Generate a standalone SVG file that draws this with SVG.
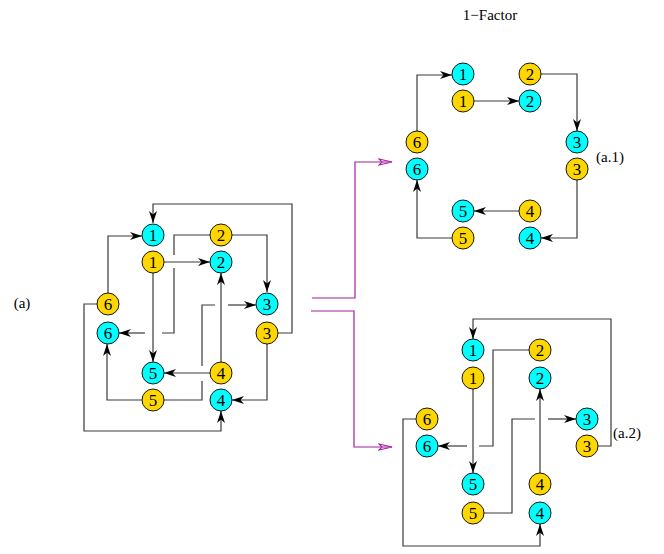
<svg xmlns="http://www.w3.org/2000/svg" width="664" height="554" viewBox="0 0 664 554">
<style>
.e{fill:none;stroke:#3a3a3a;stroke-width:1.2}
.m{fill:none;stroke:#a020a0;stroke-width:1.2}
.c{fill:#00ffff;stroke:#000;stroke-width:0.9}
.y{fill:#ffd700;stroke:#000;stroke-width:0.9}
text{font-family:"Liberation Serif","Times New Roman",serif;fill:#000}
.n{font-size:17px;text-anchor:middle}
.l{font-size:15px;text-anchor:middle}
</style>
<defs>
<marker id="ah" viewBox="0 0 12 8" refX="12" refY="4" markerWidth="12" markerHeight="8" orient="auto" markerUnits="userSpaceOnUse"><path d="M0,0 L12,4 L0,8 L3.5,4 Z" fill="#000"/></marker>
<marker id="oh" viewBox="0 0 15 9" refX="14" refY="4.5" markerWidth="15" markerHeight="9" orient="auto" markerUnits="userSpaceOnUse"><path d="M1,1.5 L14,4.5 L1,7.5 L4,4.5 Z" fill="none" stroke="#a020a0" stroke-width="1.1"/></marker>
</defs>
<text class="l" x="490" y="20">1−Factor</text>
<text class="l" x="22" y="308">(a)</text>
<text class="l" x="610" y="162">(a.1)</text>
<text class="l" x="627" y="438">(a.2)</text>
<g id="connectors">
<path class="m" d="M312,298 H355 V162 H392" marker-end="url(#oh)"/>
<path class="m" d="M311,311 H354 V447 H392" marker-end="url(#oh)"/>
<!-- (a) -->
<path class="e" d="M278,333 H292 V204 H153 V223" marker-end="url(#ah)"/>
<path class="e" d="M108,293 V236 H142" marker-end="url(#ah)"/>
<path class="e" d="M164,262 H210" marker-end="url(#ah)"/>
<path class="e" d="M210,235 H174 V255"/>
<path class="e" d="M174,268 V333 H162"/>
<path class="e" d="M145,333 H119" marker-end="url(#ah)"/>
<path class="e" d="M153,273 V362" marker-end="url(#ah)"/>
<path class="e" d="M232,235 H267 V292" marker-end="url(#ah)"/>
<path class="e" d="M221,362 V273" marker-end="url(#ah)"/>
<path class="e" d="M210,373 H164" marker-end="url(#ah)"/>
<path class="e" d="M164,400 H202 V381"/>
<path class="e" d="M202,366 V305 H215"/>
<path class="e" d="M228,305 H256" marker-end="url(#ah)"/>
<path class="e" d="M142,400 H107 V344" marker-end="url(#ah)"/>
<path class="e" d="M97,304 H84 V431 H221 V411" marker-end="url(#ah)"/>
<path class="e" d="M267,344 V400 H232" marker-end="url(#ah)"/>
<!-- (a.1) -->
<path class="e" d="M417,131 V75 H452" marker-end="url(#ah)"/>
<path class="e" d="M474,101 H519" marker-end="url(#ah)"/>
<path class="e" d="M541,74 H577 V131" marker-end="url(#ah)"/>
<path class="e" d="M577,180 V238 H541" marker-end="url(#ah)"/>
<path class="e" d="M519,211 H474" marker-end="url(#ah)"/>
<path class="e" d="M452,238 H417 V180" marker-end="url(#ah)"/>
<!-- (a.2) -->
<path class="e" d="M598,446 H611 V319 H473 V339" marker-end="url(#ah)"/>
<path class="e" d="M529,350 H493 V446 H479"/>
<path class="e" d="M467,446 H438" marker-end="url(#ah)"/>
<path class="e" d="M473,389 V473" marker-end="url(#ah)"/>
<path class="e" d="M540,473 V389" marker-end="url(#ah)"/>
<path class="e" d="M484,513 H512 V419 H535"/>
<path class="e" d="M548,419 H576" marker-end="url(#ah)"/>
<path class="e" d="M416,419 H403 V546 H540 V524" marker-end="url(#ah)"/>
</g>
<!-- (a) nodes -->
<g id="a-c1"><circle class="c" cx="153" cy="235" r="11"/><text class="n" x="153" y="241">1</text></g>
<g id="a-y1"><circle class="y" cx="153" cy="262" r="11"/><text class="n" x="153" y="268">1</text></g>
<g id="a-y2"><circle class="y" cx="221" cy="235" r="11"/><text class="n" x="221" y="241">2</text></g>
<g id="a-c2"><circle class="c" cx="221" cy="262" r="11"/><text class="n" x="221" y="268">2</text></g>
<g id="a-c3"><circle class="c" cx="267" cy="304" r="11"/><text class="n" x="267" y="310">3</text></g>
<g id="a-y3"><circle class="y" cx="267" cy="333" r="11"/><text class="n" x="267" y="339">3</text></g>
<g id="a-y6"><circle class="y" cx="108" cy="304" r="11"/><text class="n" x="108" y="310">6</text></g>
<g id="a-c6"><circle class="c" cx="108" cy="333" r="11"/><text class="n" x="108" y="339">6</text></g>
<g id="a-c5"><circle class="c" cx="153" cy="373" r="11"/><text class="n" x="153" y="379">5</text></g>
<g id="a-y4"><circle class="y" cx="221" cy="373" r="11"/><text class="n" x="221" y="379">4</text></g>
<g id="a-y5"><circle class="y" cx="153" cy="400" r="11"/><text class="n" x="153" y="406">5</text></g>
<g id="a-c4"><circle class="c" cx="221" cy="400" r="11"/><text class="n" x="221" y="406">4</text></g>
<!-- (a.1) nodes -->
<g id="a1-c1"><circle class="c" cx="463" cy="74" r="11"/><text class="n" x="463" y="80">1</text></g>
<g id="a1-y1"><circle class="y" cx="463" cy="101" r="11"/><text class="n" x="463" y="107">1</text></g>
<g id="a1-y2"><circle class="y" cx="530" cy="74" r="11"/><text class="n" x="530" y="80">2</text></g>
<g id="a1-c2"><circle class="c" cx="530" cy="101" r="11"/><text class="n" x="530" y="107">2</text></g>
<g id="a1-c3"><circle class="c" cx="577" cy="142" r="11"/><text class="n" x="577" y="148">3</text></g>
<g id="a1-y3"><circle class="y" cx="577" cy="169" r="11"/><text class="n" x="577" y="175">3</text></g>
<g id="a1-y6"><circle class="y" cx="417" cy="142" r="11"/><text class="n" x="417" y="148">6</text></g>
<g id="a1-c6"><circle class="c" cx="417" cy="169" r="11"/><text class="n" x="417" y="175">6</text></g>
<g id="a1-c5"><circle class="c" cx="463" cy="211" r="11"/><text class="n" x="463" y="217">5</text></g>
<g id="a1-y4"><circle class="y" cx="530" cy="211" r="11"/><text class="n" x="530" y="217">4</text></g>
<g id="a1-y5"><circle class="y" cx="463" cy="238" r="11"/><text class="n" x="463" y="244">5</text></g>
<g id="a1-c4"><circle class="c" cx="530" cy="238" r="11"/><text class="n" x="530" y="244">4</text></g>
<!-- (a.2) nodes -->
<g id="a2-c1"><circle class="c" cx="473" cy="350" r="11"/><text class="n" x="473" y="356">1</text></g>
<g id="a2-y1"><circle class="y" cx="473" cy="378" r="11"/><text class="n" x="473" y="384">1</text></g>
<g id="a2-y2"><circle class="y" cx="540" cy="350" r="11"/><text class="n" x="540" y="356">2</text></g>
<g id="a2-c2"><circle class="c" cx="540" cy="378" r="11"/><text class="n" x="540" y="384">2</text></g>
<g id="a2-c3"><circle class="c" cx="587" cy="419" r="11"/><text class="n" x="587" y="425">3</text></g>
<g id="a2-y3"><circle class="y" cx="587" cy="446" r="11"/><text class="n" x="587" y="452">3</text></g>
<g id="a2-y6"><circle class="y" cx="427" cy="419" r="11"/><text class="n" x="427" y="425">6</text></g>
<g id="a2-c6"><circle class="c" cx="427" cy="446" r="11"/><text class="n" x="427" y="452">6</text></g>
<g id="a2-c5"><circle class="c" cx="473" cy="484" r="11"/><text class="n" x="473" y="490">5</text></g>
<g id="a2-y4"><circle class="y" cx="540" cy="484" r="11"/><text class="n" x="540" y="490">4</text></g>
<g id="a2-y5"><circle class="y" cx="473" cy="513" r="11"/><text class="n" x="473" y="519">5</text></g>
<g id="a2-c4"><circle class="c" cx="540" cy="513" r="11"/><text class="n" x="540" y="519">4</text></g>
</svg>
